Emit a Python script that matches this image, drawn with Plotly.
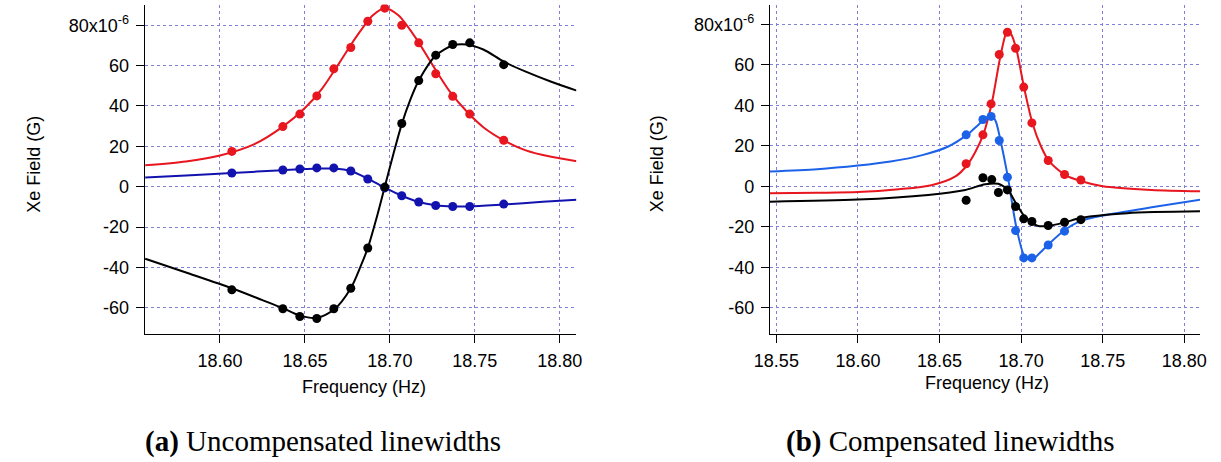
import plotly.graph_objects as go

# ---------------- Panel (a): uncompensated ----------------
a_pts_x = [18.607, 18.637, 18.647, 18.657, 18.667, 18.677, 18.687, 18.697,
           18.707, 18.717, 18.727, 18.737, 18.747, 18.767]
a_red = [17.5, 29.8, 36, 45, 58.4, 69, 82, 88.5, 80, 71.3, 56, 44.8, 36, 23]
a_black = [-51.1, -60.5, -64.3, -65.3, -60.5, -50.3, -30.4, -0.2, 31.3, 52.6,
           65.2, 70.5, 71.3, 60.5]
a_blue = [6.8, 8.3, 8.8, 9.3, 9.3, 7.8, 3.8, -0.6, -4.5, -7.6, -9.3, -9.8,
          -9.8, -8.6]

a_red_fit_x = [18.556, 18.58, 18.60, 18.62, 18.637, 18.65, 18.66, 18.67, 18.68,
               18.69, 18.697, 18.705, 18.715, 18.725, 18.735, 18.745, 18.755,
               18.767, 18.78, 18.795, 18.81]
a_red_fit_y = [10.6, 12.5, 15.5, 21, 29.8, 39, 48.5, 61, 74, 85, 88.5, 85, 74,
               60.5, 47.5, 37.5, 29.5, 23, 18, 14.8, 12.6]
a_black_fit_x = [18.556, 18.58, 18.607, 18.625, 18.637, 18.647, 18.657, 18.667,
                 18.677, 18.683, 18.687, 18.692, 18.697, 18.702, 18.707, 18.712,
                 18.717, 18.727, 18.737, 18.745, 18.755, 18.767, 18.78, 18.795,
                 18.81]
a_black_fit_y = [-35.7, -42.5, -50.3, -56.2, -60.2, -63.9, -65, -61, -50.3, -39,
                 -30.4, -16, 0, 16, 31, 43, 52.6, 65, 70, 70.5, 68, 62, 57, 52,
                 47.6]
a_blue_fit_x = [18.556, 18.58, 18.607, 18.637, 18.657, 18.667, 18.677, 18.687,
                18.697, 18.707, 18.717, 18.727, 18.737, 18.747, 18.767, 18.79,
                18.81]
a_blue_fit_y = [4.6, 5.6, 6.8, 8.2, 9.0, 9.0, 7.8, 4.0, -0.5, -4.5, -7.6, -9.2,
                -9.8, -9.8, -8.8, -7.5, -6.5]

# ---------------- Panel (b): compensated ----------------
b_red_x = [18.6663, 18.6766, 18.6816, 18.6866, 18.6916, 18.6966, 18.7016,
           18.7066, 18.7166, 18.7266, 18.7366]
b_red = [11.1, 25.4, 40.7, 65.1, 76.1, 68.2, 49, 31.3, 12.7, 5.8, 3.1]
b_blue_x = [18.6663, 18.6766, 18.6816, 18.6866, 18.6916, 18.6966, 18.7016,
            18.7066, 18.7166, 18.7266]
b_blue = [25.4, 33, 34.5, 22.6, 4.5, -21.9, -35.4, -35.4, -29, -22.2]
b_black_x = [18.6663, 18.6766, 18.682, 18.6861, 18.6916, 18.6966, 18.7016,
             18.7066, 18.7166, 18.7266, 18.7366]
b_black = [-6.9, 4.2, 3.3, -3.1, -1.8, -10, -16.1, -17.4, -19.4, -17.8, -16.5]

b_red_fit_x = [18.546, 18.575, 18.60, 18.625, 18.645, 18.66, 18.667, 18.672,
               18.677, 18.682, 18.687, 18.6905, 18.692, 18.694, 18.697, 18.702,
               18.707, 18.712, 18.717, 18.727, 18.737, 18.75, 18.78, 18.81]
b_red_fit_y = [-3.4, -3.2, -2.9, -1.5, 0.5, 5, 10.5, 17, 26, 41, 63, 75, 77, 75,
               68, 48, 31, 20, 12.5, 5.5, 2.5, 0, -1.8, -2.5]
b_blue_fit_x = [18.546, 18.575, 18.60, 18.62, 18.64, 18.655, 18.667, 18.674,
                18.679, 18.682, 18.6845, 18.687, 18.692, 18.697, 18.702, 18.705,
                18.708, 18.712, 18.717, 18.727, 18.737, 18.75, 18.78, 18.81]
b_blue_fit_y = [7.3, 8.4, 10.2, 12.2, 15.5, 19.5, 25.5, 30.5, 34, 35, 32, 24, 4,
                -20, -34.5, -36, -35.5, -32.5, -28.5, -21.5, -17, -14.5, -10.4,
                -6.6]
b_black_fit_x = [18.546, 18.60, 18.643, 18.665, 18.678, 18.686, 18.692, 18.697,
                 18.7025, 18.71, 18.717, 18.727, 18.737, 18.765, 18.81]
b_black_fit_y = [-7.6, -6.6, -4.3, -2, 1, 1.2, -2, -8.7, -15.3, -19.5, -19.6,
                 -17.8, -15.6, -13.3, -12.4]

y_tickvals = [-60, -40, -20, 0, 20, 40, 60, 80]
y_ticktext = ["-60", "-40", "-20", "0", "20", "40", "60", "80x10<sup>-6</sup>"]
xa_tickvals = [18.60, 18.65, 18.70, 18.75, 18.80]
xb_tickvals = [18.55, 18.60, 18.65, 18.70, 18.75, 18.80]

RED = "rgb(232,22,30)"
BLACK = "rgb(0,0,0)"
BLUE_A = "rgb(18,18,175)"
BLUE_B = "rgb(28,98,232)"
GRID = "rgb(128,128,215)"

fig = go.Figure()


def add_fit(x, y, color, xa, ya):
    fig.add_trace(go.Scatter(x=x, y=y, mode="lines", xaxis=xa, yaxis=ya,
                             line=dict(color=color, width=2, shape="spline",
                                       smoothing=0.8),
                             showlegend=False, hoverinfo="skip"))


def add_pts(x, y, color, xa, ya):
    fig.add_trace(go.Scatter(x=x, y=y, mode="markers", xaxis=xa, yaxis=ya,
                             marker=dict(color=color, size=9, line=dict(width=0)),
                             showlegend=False))


add_fit(a_red_fit_x, a_red_fit_y, RED, "x", "y")
add_fit(a_blue_fit_x, a_blue_fit_y, BLUE_A, "x", "y")
add_fit(a_black_fit_x, a_black_fit_y, BLACK, "x", "y")
add_pts(a_pts_x, a_red, RED, "x", "y")
add_pts(a_pts_x, a_blue, BLUE_A, "x", "y")
add_pts(a_pts_x, a_black, BLACK, "x", "y")

add_fit(b_red_fit_x, b_red_fit_y, RED, "x2", "y2")
add_fit(b_blue_fit_x, b_blue_fit_y, BLUE_B, "x2", "y2")
add_fit(b_black_fit_x, b_black_fit_y, BLACK, "x2", "y2")
add_pts(b_red_x, b_red, RED, "x2", "y2")
add_pts(b_blue_x, b_blue, BLUE_B, "x2", "y2")
add_pts(b_black_x, b_black, BLACK, "x2", "y2")

W, H = 1221, 462
font = dict(family="Liberation Sans, Arial, sans-serif", size=18, color="black")


def xaxis_cfg(dom, rng, tv, anchor):
    return dict(domain=dom, range=rng, tickvals=tv,
                ticktext=["%.2f" % v for v in tv], anchor=anchor,
                showline=True, linecolor="black", linewidth=1,
                ticks="outside", ticklen=8, tickcolor="black",
                ticklabelstandoff=2,
                showgrid=True, gridcolor=GRID, griddash="dot", gridwidth=1,
                zeroline=False, tickfont=font)


def yaxis_cfg(rng, anchor):
    return dict(domain=[(H - 334) / H, (H - 4.5) / H], range=rng,
                tickvals=y_tickvals, ticktext=y_ticktext, anchor=anchor,
                showline=True, linecolor="black", linewidth=1,
                ticks="outside", ticklen=8, tickcolor="black",
                ticklabelstandoff=3,
                showgrid=True, gridcolor=GRID, griddash="dot", gridwidth=1,
                zeroline=False, tickfont=font)


fig.update_layout(
    width=W, height=H,
    margin=dict(l=0, r=0, t=0, b=0),
    paper_bgcolor="white", plot_bgcolor="white",
    font=font,
    xaxis=xaxis_cfg([131 / W, 571 / W], [18.5556, 18.8097], xa_tickvals, "y"),
    yaxis=yaxis_cfg([-73, 90.3], "x"),
    xaxis2=xaxis_cfg([768.3 / W, 1206.7 / W], [18.546, 18.8096], xb_tickvals, "y2"),
    yaxis2=yaxis_cfg([-73, 89.8], "x2"),
)

annos = [
    dict(x=354.5 / W, y=1 - 387 / H, text="Frequency (Hz)", textangle=0),
    dict(x=990 / W, y=1 - 383 / H, text="Frequency (Hz)", textangle=0),
    dict(x=18 / W, y=1 - 164 / H, text="Xe Field (G)", textangle=-90),
    dict(x=653.5 / W, y=1 - 164 / H, text="Xe Field (G)", textangle=-90),
]
for a in annos:
    fig.add_annotation(xref="paper", yref="paper", showarrow=False,
                       xanchor="center", yanchor="middle", font=font, **a)

cap_font = dict(family="Liberation Serif, Times New Roman, serif", size=29,
                color="black")
fig.add_annotation(xref="paper", yref="paper", showarrow=False,
                   x=313 / W, y=1 - 441 / H, xanchor="center", yanchor="middle",
                   text="<b>(a)</b> Uncompensated linewidths", font=cap_font)
fig.add_annotation(xref="paper", yref="paper", showarrow=False,
                   x=952 / W, y=1 - 441 / H, xanchor="center", yanchor="middle",
                   text="<b>(b)</b> Compensated linewidths", font=cap_font)

fig.write_html("out.html")
